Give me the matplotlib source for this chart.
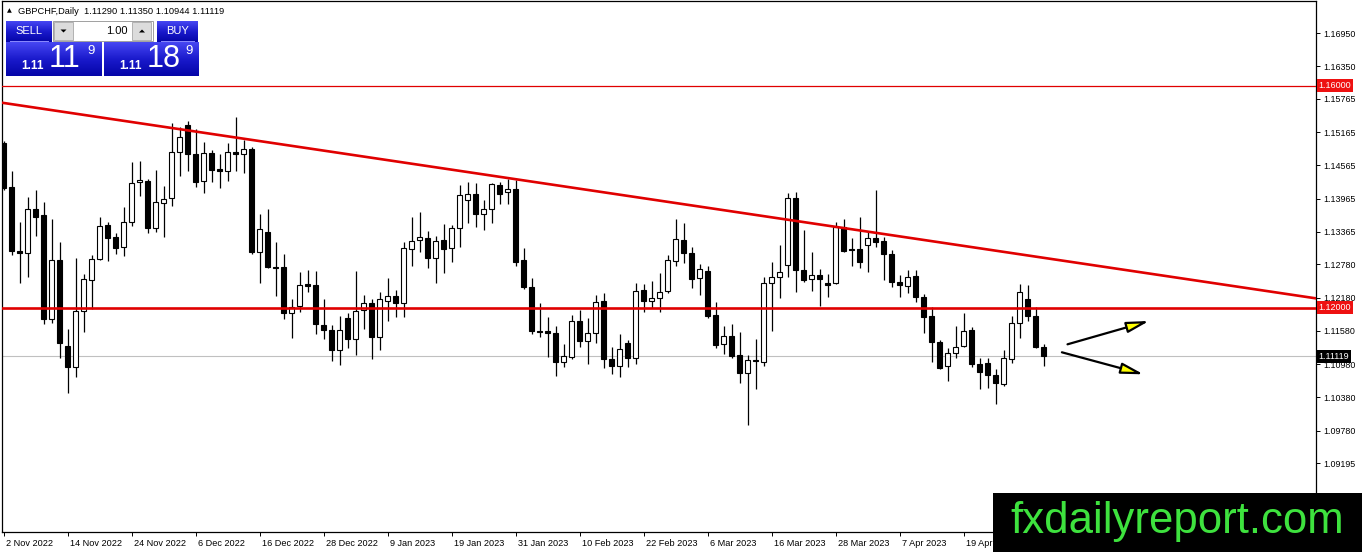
import matplotlib
matplotlib.use('Agg')
import matplotlib.pyplot as plt
import matplotlib.transforms as mtransforms
from matplotlib.patches import Rectangle, Polygon
from matplotlib.colors import LinearSegmentedColormap
import numpy as np
import pandas as pd

plt.rcParams['font.family'] = ['Liberation Sans', 'DejaVu Sans']

#-------------------------------------------------------------------------------
# data
#-------------------------------------------------------------------------------
SYMBOL = 'GBPCHF,Daily'
START = '2022-11-02'

opens = [
    1.14967, 1.14174, 1.13020, 1.12984, 1.13777, 1.13669, 1.11794, 1.12858, 1.11308, 1.10929,
    1.11938, 1.12498, 1.12876, 1.13489, 1.13273, 1.13093, 1.13543, 1.14264, 1.14282, 1.13435,
    1.13885, 1.13976, 1.14805, 1.15291, 1.14769, 1.14282, 1.14787, 1.14499, 1.14463, 1.14805,
    1.14769, 1.14859, 1.13002, 1.13363, 1.12732, 1.12732, 1.11902, 1.12028, 1.12426, 1.12408,
    1.11686, 1.11596, 1.11235, 1.11812, 1.11434, 1.11956, 1.12082, 1.11470, 1.12118, 1.12210,
    1.12082, 1.13057, 1.13219, 1.13255, 1.12894, 1.13219, 1.13075, 1.13435, 1.13939, 1.14048,
    1.13687, 1.13777, 1.14210, 1.14084, 1.14138, 1.12858, 1.12372, 1.11578, 1.11578, 1.11542,
    1.11019, 1.11109, 1.11758, 1.11398, 1.11542, 1.12118, 1.11073, 1.10947, 1.11362, 1.11091,
    1.12318, 1.12118, 1.12174, 1.12300, 1.12840, 1.13219, 1.12984, 1.12534, 1.12660, 1.11866,
    1.11344, 1.11488, 1.11145, 1.10821, 1.11055, 1.11019, 1.12444, 1.12552, 1.12768, 1.13976,
    1.12678, 1.12516, 1.12588, 1.12444, 1.12444, 1.13453, 1.13057, 1.13057, 1.13129, 1.13255,
    1.13201, 1.12966, 1.12462, 1.12390, 1.12570, 1.12192, 1.11848, 1.11380, 1.10947, 1.11181,
    1.11308, 1.11596, 1.10983, 1.11001, 1.10785, 1.10623, 1.11073, 1.11722, 1.12156, 1.11848,
    1.11290]
highs = [
    1.15003, 1.14463, 1.13543, 1.13994, 1.14120, 1.13903, 1.13597, 1.13183, 1.11614, 1.12894,
    1.12606, 1.12948, 1.13633, 1.13543, 1.13345, 1.13813, 1.14625, 1.14643, 1.14319, 1.14481,
    1.14192, 1.15327, 1.15255, 1.15363, 1.15219, 1.14985, 1.14841, 1.14769, 1.14967, 1.15435,
    1.15021, 1.14895, 1.13687, 1.13777, 1.13183, 1.12966, 1.12156, 1.12642, 1.12678, 1.12660,
    1.12156, 1.11686, 1.11848, 1.11902, 1.12660, 1.12228, 1.12156, 1.12282, 1.12534, 1.12318,
    1.13183, 1.13633, 1.13723, 1.13381, 1.13291, 1.13507, 1.13489, 1.14210, 1.14264, 1.14246,
    1.13939, 1.14246, 1.14264, 1.14319, 1.14300, 1.13075, 1.12534, 1.12082, 1.11830, 1.11668,
    1.11344, 1.11866, 1.11956, 1.11812, 1.12228, 1.12264, 1.11290, 1.11524, 1.11416, 1.12444,
    1.12426, 1.12480, 1.12624, 1.12948, 1.13597, 1.13525, 1.13093, 1.12786, 1.12750, 1.12100,
    1.11668, 1.11704, 1.11560, 1.11145, 1.11434, 1.12552, 1.12822, 1.13129, 1.14066, 1.14084,
    1.13399, 1.13002, 1.12696, 1.12606, 1.13543, 1.13597, 1.13255, 1.13633, 1.13381, 1.14120,
    1.13273, 1.13038, 1.12588, 1.12678, 1.12678, 1.12246, 1.12010, 1.11416, 1.11272, 1.11668,
    1.11902, 1.11650, 1.11091, 1.11091, 1.10893, 1.11235, 1.11848, 1.12426, 1.12408, 1.12010,
    1.11350]
lows = [
    1.14120, 1.12948, 1.12444, 1.12552, 1.13291, 1.11704, 1.11722, 1.11091, 1.10461, 1.10749,
    1.11560, 1.11974, 1.12858, 1.12840, 1.12966, 1.12930, 1.13471, 1.14012, 1.13345, 1.13363,
    1.13273, 1.13831, 1.14373, 1.14463, 1.14174, 1.14066, 1.14264, 1.14156, 1.14282, 1.14463,
    1.14427, 1.12966, 1.12444, 1.12714, 1.12210, 1.11794, 1.11452, 1.11920, 1.12282, 1.11524,
    1.11434, 1.11037, 1.10965, 1.11272, 1.11145, 1.11614, 1.11073, 1.11235, 1.11758, 1.11830,
    1.11830, 1.12750, 1.13002, 1.12714, 1.12444, 1.12624, 1.12822, 1.13093, 1.13525, 1.13453,
    1.13399, 1.13525, 1.13867, 1.13867, 1.12750, 1.12336, 1.11524, 1.11470, 1.11109, 1.10767,
    1.10929, 1.11073, 1.11290, 1.10983, 1.11362, 1.10911, 1.10803, 1.10749, 1.10929, 1.10983,
    1.11920, 1.11992, 1.11920, 1.12264, 1.12750, 1.12804, 1.12354, 1.12228, 1.11812, 1.11272,
    1.11163, 1.11091, 1.10641, 1.09884, 1.10533, 1.10947, 1.11578, 1.12174, 1.12552, 1.12282,
    1.12462, 1.12300, 1.12028, 1.12192, 1.12426, 1.13002, 1.12750, 1.12714, 1.12642, 1.13093,
    1.12498, 1.12372, 1.12192, 1.12264, 1.12100, 1.11542, 1.11019, 1.10893, 1.10677, 1.11091,
    1.11290, 1.10929, 1.10533, 1.10551, 1.10263, 1.10587, 1.11001, 1.11452, 1.11758, 1.11272,
    1.10944]
closes = [
    1.14156, 1.13020, 1.12984, 1.13777, 1.13633, 1.11794, 1.12858, 1.11362, 1.10929, 1.11938,
    1.12516, 1.12876, 1.13471, 1.13255, 1.13075, 1.13543, 1.14246, 1.14300, 1.13435, 1.13903,
    1.13958, 1.14805, 1.15075, 1.14769, 1.14264, 1.14787, 1.14481, 1.14463, 1.14805, 1.14769,
    1.14859, 1.13002, 1.13417, 1.12732, 1.12714, 1.11902, 1.12010, 1.12408, 1.12390, 1.11704,
    1.11596, 1.11235, 1.11596, 1.11434, 1.11938, 1.12082, 1.11470, 1.12156, 1.12210, 1.12082,
    1.13075, 1.13201, 1.13273, 1.12894, 1.13201, 1.13057, 1.13435, 1.14030, 1.14048, 1.13687,
    1.13777, 1.14228, 1.14048, 1.14138, 1.12822, 1.12372, 1.11578, 1.11560, 1.11542, 1.11019,
    1.11127, 1.11758, 1.11398, 1.11542, 1.12100, 1.11073, 1.10947, 1.11254, 1.11091, 1.12300,
    1.12118, 1.12174, 1.12282, 1.12858, 1.13237, 1.12984, 1.12516, 1.12696, 1.11848, 1.11326,
    1.11488, 1.11127, 1.10821, 1.11055, 1.11037, 1.12444, 1.12552, 1.12642, 1.13976, 1.12678,
    1.12498, 1.12588, 1.12516, 1.12408, 1.13453, 1.13020, 1.13038, 1.12822, 1.13255, 1.13183,
    1.12966, 1.12462, 1.12408, 1.12552, 1.12192, 1.11830, 1.11380, 1.10911, 1.11181, 1.11290,
    1.11578, 1.10983, 1.10839, 1.10785, 1.10641, 1.11091, 1.11722, 1.12282, 1.11848, 1.11290,
    1.11119]

price_ticks = [1.16950, 1.16350, 1.15765, 1.15165, 1.14565, 1.13965, 1.13365,
               1.12780, 1.12180, 1.11580, 1.10980, 1.10380, 1.09780, 1.09195]
levels = [1.16000, 1.12000]
bid = 1.11119
ask = 1.11189
lot = '1.00'

# trendline through two bars (bar index, price), extended both ways
trend_a = (0, 1.15689)
trend_b = (130, 1.12897)

# hand drawn arrows: (start, end) in (bar index, price)
arrows = [((133.0, 1.11337), (143.2, 1.11758)),
          ((132.3, 1.11193), (142.5, 1.10796))]

WATERMARK = 'fxdailyreport.com'

#-------------------------------------------------------------------------------

W, H = 1362, 552
RED = '#e00000'


def draw_candles(ax):
    x = np.arange(len(opens))
    o, h, l, c = map(np.asarray, (opens, highs, lows, closes))
    ax.vlines(x, l, h, color='black', lw=0.9, zorder=2)
    up = c >= o
    body_lo = np.minimum(o, c)
    body_h = np.abs(c - o)
    ax.bar(x[up], body_h[up], bottom=body_lo[up], width=0.6,
           color='white', edgecolor='black', linewidth=0.8, zorder=3)
    ax.bar(x[~up], body_h[~up], bottom=body_lo[~up], width=0.6,
           color='black', edgecolor='black', linewidth=0.8, zorder=3)


def price_tag(ax, y, txt, fc):
    ax.annotate(txt, xy=(1, y), xycoords=('axes fraction', 'data'),
                xytext=(1.8, 0), textcoords='offset points',
                ha='left', va='center', fontsize=6.5, color='white',
                bbox=dict(boxstyle='square,pad=0.2', fc=fc, ec='none'),
                annotation_clip=False, zorder=6)


def grad_box(ov, x0, y0, x1, y1, cmap):
    g = np.linspace(0, 1, 32).reshape(-1, 1)
    ov.imshow(g, extent=(x0, x1, y1, y0), cmap=cmap, aspect='auto',
              interpolation='bilinear', zorder=5)


def trade_panel(ov):
    blue = LinearSegmentedColormap.from_list('mt4', ['#4646f2', '#1a1acc', '#0505a8'])
    # header
    ov.text(7, 11, '\u25b2', fontsize=4.5, va='center', ha='left', family='DejaVu Sans')
    ov.text(18, 11, '%s  %.5f %.5f %.5f %.5f' % (SYMBOL, opens[-1], highs[-1], lows[-1], closes[-1]),
            fontsize=6.7, va='center', ha='left')
    # sell / buy buttons
    for x0, x1, lab in ((6, 52, 'SELL'), (157, 198, 'BUY')):
        grad_box(ov, x0, 21, x1, 42, blue)
        ov.plot([x0 + 4, x1 - 4], [41, 41], color='#8c8cff', lw=0.7, zorder=6)
        ov.text((x0 + x1) / 2, 30.5, lab, color='white', fontsize=8, ha='center', va='center', zorder=7)
    # lot size box
    ov.add_patch(Rectangle((53, 21), 100, 20, fc='white', ec='#a0a0a0', lw=0.7, zorder=5))
    for bx, tri in ((54, [(60.5, 29.5), (66.5, 29.5), (63.5, 32.5)]),
                    (132, [(139, 32.5), (145, 32.5), (142, 29.5)])):
        ov.add_patch(Rectangle((bx, 22), 19, 18, fc='#dcdcdc', ec='#a8a8a8', lw=0.6, zorder=6))
        ov.add_patch(Polygon(tri, closed=True, fc='black', ec='none', zorder=7))
    ov.text(128, 31, lot, fontsize=8, ha='right', va='center', zorder=7)
    # big quote boxes
    for x0, x1, val in ((6, 102, bid), (104, 199, ask)):
        grad_box(ov, x0, 42, x1, 76, blue)
        s = '%.5f' % val
        ov.text(x0 + 15, 66, s[:4], color='white', fontsize=8.5, fontweight='bold',
                ha='left', va='center', zorder=7)
        ov.text(x0 + 43, 59, s[4:6], color='white', fontsize=22, ha='left', va='center', zorder=7)
        ov.text(x0 + 81, 51, s[6], color='white', fontsize=9.5, ha='left', va='center', zorder=7)


def main():
    n = len(opens)
    dates = pd.bdate_range(START, periods=n)

    fig = plt.figure(figsize=(W / 100, H / 100), dpi=100)
    fig.patch.set_facecolor('white')
    ax = fig.add_axes([2 / W, 20 / H, 1314 / W, 531 / H])

    draw_candles(ax)

    ax.axhline(levels[0], color=RED, lw=0.9, zorder=4)
    ax.axhline(levels[1], color=RED, lw=1.9, zorder=4)
    ax.axhline(bid, color='#c0c0c0', lw=0.8, zorder=1)
    ax.axline(trend_a, trend_b, color=RED, lw=1.9, zorder=4)

    for start, end in arrows:
        ax.annotate('', xy=end, xytext=start,
                    arrowprops=dict(arrowstyle='-|>,head_length=1.35,head_width=0.33',
                                    mutation_scale=10, lw=1.6, ec='black', fc='#ffff00',
                                    shrinkA=0, shrinkB=0),
                    annotation_clip=False, zorder=5)

    ax.set_xlim(-0.1875, 164.06)
    ax.set_ylim(1.07953, 1.17527)

    ax.yaxis.tick_right()
    ax.set_yticks(price_ticks)
    ax.set_yticklabels(['%.5f' % p for p in price_ticks])
    ax.tick_params(axis='y', direction='out', length=3, width=0.7, pad=2.5, labelsize=6.4)

    # date labels every 8 bars; the ones under the watermark box are not shown
    xt = [i for i in range(0, n, 8) if 3.5 + 8 * i < 990]
    ax.set_xticks(xt)
    ax.set_xticklabels(['%d %s' % (dates[i].day, dates[i].strftime('%b %Y')) for i in xt],
                       ha='left')
    ax.tick_params(axis='x', direction='out', length=3, width=0.7, pad=2, labelsize=6.6)
    for lab in ax.get_xticklabels():
        lab.set_transform(lab.get_transform() + mtransforms.ScaledTranslation(1.5 / 72, 0, fig.dpi_scale_trans))

    for sp in ax.spines.values():
        sp.set_linewidth(0.9)
        sp.set_color('black')

    price_tag(ax, levels[0], '%.5f' % levels[0], '#ee1111')
    price_tag(ax, levels[1], '%.5f' % levels[1], '#ee1111')
    price_tag(ax, bid, '%.5f' % bid, 'black')

    # overlay in pixel units for the trade panel and the watermark
    ov = fig.add_axes([0, 0, 1, 1], zorder=10)
    ov.patch.set_visible(False)
    trade_panel(ov)
    ov.add_patch(Rectangle((993, 493), W - 993, H - 493, fc='black', ec='none', zorder=8))
    ov.text(1177, 522, WATERMARK, color='#3ee23e', fontsize=31.5, ha='center', va='center',
            family='Liberation Sans', zorder=9)
    ov.set_xlim(0, W)
    ov.set_ylim(H, 0)
    ov.axis('off')

    fig.savefig('out.png', dpi=100)
    plt.close(fig)


#-------------------------------------------------------------------------------

if __name__ == '__main__':
    main()

#-------------------------------------------------------------------------------
